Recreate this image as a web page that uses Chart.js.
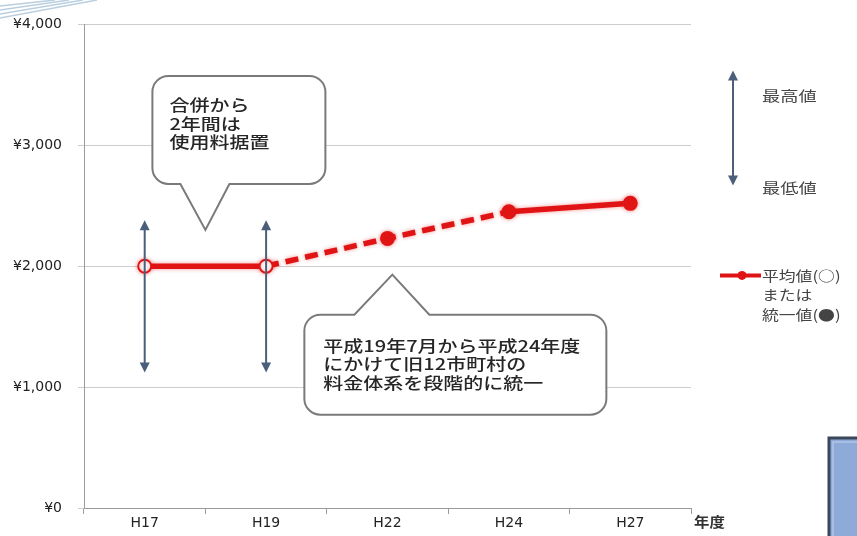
<!DOCTYPE html>
<html lang="ja">
<head>
<meta charset="utf-8">
<script src="https://cdn.jsdelivr.net/npm/chart.js@4"></script>
<style>
  html, body { margin: 0; padding: 0; background: #fff; }
  #wrap { width: 857px; height: 536px; position: relative; }
</style>
</head>
<body>
<div id="wrap"><canvas id="feeChart" width="857" height="536"></canvas></div>
<script>
// fiscal years (Heisei)
const categories = ['H17', 'H19', 'H22', 'H24', 'H27'];
// average (hollow) or unified (filled) monthly fee, yen
const feeValues = [2000, 2000, 2230, 2450, 2520];
const pointKinds = ['avg', 'avg', 'unified', 'unified', 'unified'];
// highest / lowest fee among the former municipalities
const rangeMax = [2380, 2380, null, null, null];
const rangeMin = [1120, 1120, null, null, null];
const yTicks = [0, 1000, 2000, 3000, 4000];
// gradual unification period, drawn dashed
const transitionFrom = 'H19';
const transitionTo = 'H24';

const callouts = [
  { lines: ['合併から', '2年間は', '使用料据置'], at: 0.5, value: 2300, dir: 'down' },
  { lines: ['平成19年7月から平成24年度', 'にかけて旧12市町村の', '料金体系を段階的に統一'], at: 2.04, value: 1930, dir: 'up' },
];

const RED = '#e01414';
const ARROW = '#4b5f7a';
const JP_FONT = '"Noto Sans CJK JP", "Noto Sans", sans-serif';

function stretchText(ctx, text, x, y, sx) {
  ctx.save();
  ctx.translate(x, y);
  ctx.scale(sx, 1);
  ctx.fillText(text, 0, 0);
  ctx.restore();
}

function drawArrow(ctx, x, yTop, yBot) {
  ctx.save();
  ctx.strokeStyle = ARROW;
  ctx.fillStyle = ARROW;
  ctx.lineWidth = 2;
  ctx.beginPath();
  ctx.moveTo(x, yTop + 6);
  ctx.lineTo(x, yBot - 6);
  ctx.stroke();
  ctx.beginPath();
  ctx.moveTo(x, yTop);
  ctx.lineTo(x - 5, yTop + 10);
  ctx.lineTo(x + 5, yTop + 10);
  ctx.closePath();
  ctx.fill();
  ctx.beginPath();
  ctx.moveTo(x, yBot);
  ctx.lineTo(x - 5, yBot - 10);
  ctx.lineTo(x + 5, yBot - 10);
  ctx.closePath();
  ctx.fill();
  ctx.restore();
}

function calloutPath(ctx, b, tip, t0, t1, dir, r) {
  ctx.beginPath();
  ctx.moveTo(b.left + r, b.top);
  if (dir === 'up') {
    ctx.lineTo(t0, b.top);
    ctx.lineTo(tip.x, tip.y);
    ctx.lineTo(t1, b.top);
  }
  ctx.arcTo(b.right, b.top, b.right, b.bottom, r);
  ctx.arcTo(b.right, b.bottom, b.left, b.bottom, r);
  if (dir === 'down') {
    ctx.lineTo(t1, b.bottom);
    ctx.lineTo(tip.x, tip.y);
    ctx.lineTo(t0, b.bottom);
  }
  ctx.arcTo(b.left, b.bottom, b.left, b.top, r);
  ctx.arcTo(b.left, b.top, b.right, b.top, r);
  ctx.closePath();
}

const calloutPlugin = {
  id: 'callouts',
  beforeDatasetsDraw(chart) {
    const { ctx, scales: { x, y } } = chart;
    callouts.forEach((c) => {
      const tip = { x: x.getPixelForValue(c.at), y: y.getPixelForValue(c.value) };
      let box, t0, t1, textX, lineY;
      if (c.dir === 'down') {
        box = { left: tip.x - 53, right: tip.x + 120, top: tip.y - 154, bottom: tip.y - 46 };
        t0 = tip.x - 25; t1 = tip.x + 24;
        textX = box.left + 17; lineY = box.top + 29;
      } else {
        box = { left: tip.x - 88, right: tip.x + 214, top: tip.y + 40, bottom: tip.y + 140 };
        t0 = tip.x - 38; t1 = tip.x + 37;
        textX = box.left + 19; lineY = box.top + 31;
      }
      ctx.save();
      calloutPath(ctx, box, tip, t0, t1, c.dir, 16);
      ctx.fillStyle = '#ffffff';
      ctx.fill();
      ctx.strokeStyle = '#7a7a7a';
      ctx.lineWidth = 2;
      ctx.stroke();
      ctx.fillStyle = '#262626';
      ctx.font = '500 16px ' + JP_FONT;
      ctx.textBaseline = 'middle';
      c.lines.forEach((line, i) => stretchText(ctx, line, textX, lineY + i * 18.5, 1.25));
      ctx.restore();
    });
  },
};

const rangePlugin = {
  id: 'ranges',
  beforeDatasetDraw(chart) {
    chart.ctx.save();
    chart.ctx.shadowColor = 'rgba(230, 30, 30, 0.45)';
    chart.ctx.shadowBlur = 4;
  },
  afterDatasetDraw(chart) {
    chart.ctx.restore();
  },
  afterDatasetsDraw(chart) {
    const { ctx, scales: { x, y } } = chart;
    categories.forEach((cat, i) => {
      if (rangeMax[i] == null) return;
      drawArrow(ctx, x.getPixelForValue(i), y.getPixelForValue(rangeMax[i]), y.getPixelForValue(rangeMin[i]));
    });
  },
};

const decorPlugin = {
  id: 'decor',
  beforeDraw(chart) {
    const { ctx } = chart;
    ctx.save();
    ctx.fillStyle = '#ffffff';
    ctx.fillRect(0, 0, chart.width, chart.height);
    // slide decoration, top-left corner
    ctx.strokeStyle = '#b9cfdf';
    ctx.lineWidth = 1.5;
    for (let i = 0; i < 4; i++) {
      ctx.beginPath();
      ctx.moveTo(0, 6 + i * 4);
      ctx.lineTo(55 + i * 14, 0);
      ctx.stroke();
    }
    ctx.restore();
  },
  afterDraw(chart) {
    const { ctx, chartArea: a } = chart;
    ctx.save();
    // side legend
    const lx = a.right + 42;
    drawArrow(ctx, lx, a.top + 46, a.top + 161);
    ctx.fillStyle = '#444';
    ctx.font = '14px ' + JP_FONT;
    ctx.textBaseline = 'middle';
    stretchText(ctx, '最高値', lx + 29, a.top + 71, 1.3);
    stretchText(ctx, '最低値', lx + 29, a.top + 163, 1.3);

    const ry = a.top + 251;
    ctx.strokeStyle = RED;
    ctx.lineWidth = 4;
    ctx.beginPath();
    ctx.moveTo(lx - 13, ry);
    ctx.lineTo(lx + 28, ry);
    ctx.stroke();
    ctx.fillStyle = RED;
    ctx.beginPath();
    ctx.arc(lx + 9, ry, 4.5, 0, Math.PI * 2);
    ctx.fill();
    ctx.fillStyle = '#444';
    stretchText(ctx, '平均値(○)', lx + 29, ry, 1.2);
    stretchText(ctx, 'または', lx + 29, ry + 19, 1.2);
    stretchText(ctx, '統一値(●)', lx + 29, ry + 39, 1.2);

    // x axis title
    ctx.fillStyle = '#333';
    ctx.font = 'bold 14px ' + JP_FONT;
    stretchText(ctx, '年度', a.right + 3, a.bottom + 14, 1.1);

    // slide panel, bottom-right
    ctx.fillStyle = '#8eaad8';
    ctx.fillRect(829, 438, 40, 110);
    ctx.strokeStyle = '#3a4659';
    ctx.lineWidth = 3;
    ctx.strokeRect(829, 438, 40, 110);
    ctx.strokeStyle = '#c3d2ee';
    ctx.lineWidth = 1;
    ctx.strokeRect(833, 442, 40, 110);
    ctx.restore();
  },
};

const ctx = document.getElementById('feeChart').getContext('2d');
new Chart(ctx, {
  type: 'line',
  data: {
    labels: categories,
    datasets: [
      {
        label: '平均値または統一値',
        data: feeValues,
        borderColor: RED,
        borderWidth: 5.5,
        pointRadius: 6.5,
        pointBorderWidth: 2,
        pointBorderColor: RED,
        pointBackgroundColor: pointKinds.map((k) => (k === 'avg' ? '#ffffff' : RED)),
        tension: 0,
        segment: {
          borderDash: (c) =>
            c.p0DataIndex >= categories.indexOf(transitionFrom) && c.p1DataIndex <= categories.indexOf(transitionTo)
              ? [13, 7]
              : undefined,
        },
      },
    ],
  },
  options: {
    responsive: false,
    animation: false,
    layout: { padding: { top: 22, right: 166, bottom: 0, left: 0 } },
    plugins: {
      legend: { display: false },
      tooltip: { enabled: false },
    },
    scales: {
      x: {
        type: 'category',
        offset: true,
        grid: { offset: true, drawOnChartArea: false, drawTicks: true, tickLength: 6, color: '#9a9a9a' },
        border: { color: '#9a9a9a', width: 1 },
        ticks: { color: '#222', font: { family: 'DejaVu Sans', size: 14 }, padding: 1, maxRotation: 0 },
        afterFit: (scale) => { scale.height = 28; },
      },
      y: {
        min: yTicks[0],
        max: yTicks[yTicks.length - 1],
        afterBuildTicks: (scale) => { scale.ticks = yTicks.map((v) => ({ value: v })); },
        grid: { color: '#cdcdcd', tickLength: 6, lineWidth: 1 },
        border: { color: '#9a9a9a', width: 1 },
        ticks: {
          color: '#222',
          font: { family: 'DejaVu Sans', size: 14 },
          padding: 16,
          callback: (v) => '¥' + Number(v).toLocaleString('en-US'),
        },
        afterFit: (scale) => { scale.width = 84; },
      },
    },
  },
  plugins: [decorPlugin, calloutPlugin, rangePlugin],
});
</script>
</body>
</html>
